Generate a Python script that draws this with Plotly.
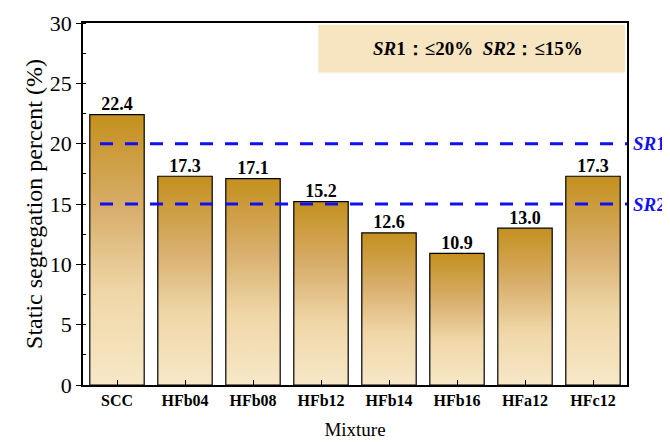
import plotly.graph_objects as go

categories = ["SCC", "HFb04", "HFb08", "HFb12", "HFb14", "HFb16", "HFa12", "HFc12"]
values = [22.4, 17.3, 17.1, 15.2, 12.6, 10.9, 13.0, 17.3]
limits = {"SR1": 20, "SR2": 15}
y_ticks = [0, 5, 10, 15, 20, 25, 30]

FONT = "Liberation Serif, Times New Roman, Times, serif"
half = 0.4

fig = go.Figure()
for i, v in enumerate(values):
    fig.add_trace(go.Scatter(
        x=[i - half, i + half, i + half, i - half, i - half],
        y=[0, 0, v, v, 0],
        mode="lines", fill="toself",
        line=dict(color="black", width=1.2),
        fillgradient=dict(type="vertical", start=0, stop=v,
                          colorscale=[[0, "#F8E8C8"], [0.35, "#EFD6A6"],
                                      [0.65, "#D8AE6C"], [1, "#C4901E"]]),
        showlegend=False, hoverinfo="skip"))

fig.add_trace(go.Scatter(
    x=list(range(len(values))), y=values, mode="text",
    text=[f"<b>{v:.1f}</b>" for v in values], textposition="top center",
    textfont=dict(family=FONT, size=18, color="black"),
    showlegend=False, hoverinfo="skip"))

for name, val in limits.items():
    fig.add_trace(go.Scatter(
        x=[-0.25, 7.5], y=[val, val], mode="lines",
        line=dict(color="#1010F0", width=3, dash="13px,12px"),
        showlegend=False, hoverinfo="skip"))
    fig.add_annotation(x=1, xref="paper", y=val, yref="y", xanchor="left",
                       xshift=4, showarrow=False,
                       text=f"<b><i>{name[:2]}</i>{name[2:]}</b>",
                       font=dict(family=FONT, size=19, color="#1010F0"))

fig.add_shape(type="rect", xref="x", yref="y", x0=2.96, x1=7.47, y0=25.9, y1=29.85,
              fillcolor="#F7E4C0", line=dict(width=0), layer="below")
fig.add_annotation(x=(2.96 + 7.47) / 2, y=(25.9 + 29.85) / 2, xref="x", yref="y",
                   showarrow=False, xshift=6,
                   text="<b><i>SR</i>1：≤20%  <i>SR</i>2：≤15%</b>",
                   font=dict(family=FONT, size=19, color="black"))

fig.update_layout(
    width=662, height=434,
    margin=dict(l=75, r=43, t=15, b=57),
    paper_bgcolor="white", plot_bgcolor="white",
    font=dict(family=FONT, color="black"),
)
fig.update_xaxes(
    range=[-0.5, 7.5], tickmode="array", tickvals=list(range(len(categories))),
    ticktext=[f"<b>{c}</b>" for c in categories], automargin=False,
    tickfont=dict(family=FONT, size=16), ticks="inside", ticklen=5, tickcolor="black",
    showline=True, linecolor="black", linewidth=1.5, mirror=True, showgrid=False,
    zeroline=False,
    title=dict(text="Mixture", font=dict(family=FONT, size=19), standoff=15),
)
fig.update_yaxes(
    range=[0, 30], tickvals=y_ticks, ticks="outside", ticklen=5, tickcolor="black",
    tickfont=dict(family=FONT, size=22), automargin=False,
    minor=dict(ticks="inside", ticklen=3, dtick=2.5, tickcolor="black", showgrid=False),
    showline=True, linecolor="black", linewidth=1.5, mirror=True, showgrid=False,
    zeroline=False,
    title=dict(text="Static segregation percent (%)", font=dict(family=FONT, size=24), standoff=0),
)

fig.write_html("out.html")
